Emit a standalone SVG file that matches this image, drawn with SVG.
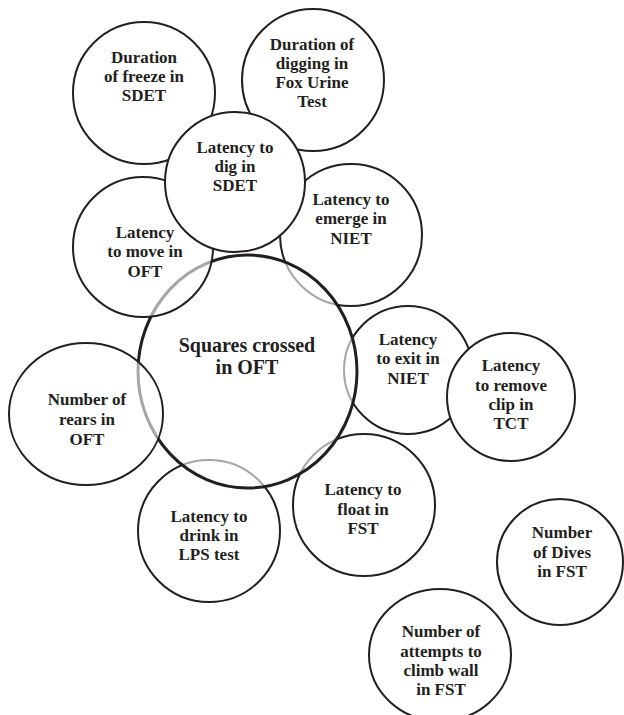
<svg xmlns="http://www.w3.org/2000/svg" width="624" height="715" viewBox="0 0 624 715">
<style>
.c{fill:#fff;stroke:#231f20;stroke-width:2}
.t{fill:#fff;fill-opacity:0.6;stroke:#231f20;stroke-width:2}
.big{fill:#fff;fill-opacity:0.6;stroke:#231f20;stroke-width:3}
text{font-family:"Liberation Serif","Times New Roman",serif;font-weight:bold;font-size:17px;fill:#231f20;text-anchor:middle}
.lg{font-size:20px}
</style>
<rect width="624" height="715" fill="#fff"/>
<g id="connectors"/>
<g id="freeze">
<circle class="c" cx="144" cy="93" r="71"/>
<text x="144" y="63">Duration</text>
<text x="144" y="82">of freeze in</text>
<text x="144" y="101">SDET</text>
</g>
<g id="fox">
<circle class="c" cx="313" cy="80" r="71"/>
<text x="312" y="50">Duration of</text>
<text x="312" y="69">digging in</text>
<text x="312" y="88">Fox Urine</text>
<text x="312" y="107">Test</text>
</g>
<g id="emerge">
<circle class="c" cx="351" cy="235" r="71"/>
<text x="351" y="205">Latency to</text>
<text x="351" y="224">emerge in</text>
<text x="351" y="244">NIET</text>
</g>
<g id="exit">
<circle class="c" cx="408" cy="370" r="64"/>
<text x="408" y="345">Latency</text>
<text x="408" y="364">to exit in</text>
<text x="408" y="384">NIET</text>
</g>
<g id="drink">
<circle class="c" cx="209" cy="531" r="71"/>
<text x="209" y="522">Latency to</text>
<text x="209" y="541">drink in</text>
<text x="209" y="560">LPS test</text>
</g>
<g id="float">
<circle class="c" cx="364" cy="505" r="71"/>
<text x="363" y="495">Latency to</text>
<text x="363" y="515">float in</text>
<text x="363" y="534">FST</text>
</g>
<g id="tct">
<circle class="c" cx="511" cy="397" r="64"/>
<text x="511" y="371">Latency</text>
<text x="511" y="391">to remove</text>
<text x="511" y="410">clip in</text>
<text x="511" y="429">TCT</text>
</g>
<g id="squares">
<ellipse class="big" cx="247.5" cy="371.5" rx="109.5" ry="116.5"/>
<text class="lg" x="247" y="352">Squares crossed</text>
<text class="lg" x="247" y="374">in OFT</text>
</g>
<g id="move">
<circle class="t" cx="143" cy="247" r="70"/>
<text x="145" y="238">Latency</text>
<text x="145" y="257">to move in</text>
<text x="145" y="277">OFT</text>
</g>
<g id="rears">
<ellipse class="t" cx="86" cy="414" rx="77" ry="71"/>
<text x="87" y="405">Number of</text>
<text x="87" y="425">rears in</text>
<text x="87" y="445">OFT</text>
</g>
<g id="dig">
<circle class="c" cx="235" cy="182" r="70"/>
<text x="235" y="153">Latency to</text>
<text x="235" y="172">dig in</text>
<text x="235" y="191">SDET</text>
</g>
<g id="dives">
<circle class="c" cx="560" cy="562" r="63"/>
<text x="562" y="538">Number</text>
<text x="562" y="558">of Dives</text>
<text x="562" y="577">in FST</text>
</g>
<g id="climb">
<ellipse class="c" cx="440" cy="655" rx="71" ry="66"/>
<text x="441" y="637">Number of</text>
<text x="441" y="657">attempts to</text>
<text x="441" y="676">climb wall</text>
<text x="441" y="695">in FST</text>
</g>
</svg>
